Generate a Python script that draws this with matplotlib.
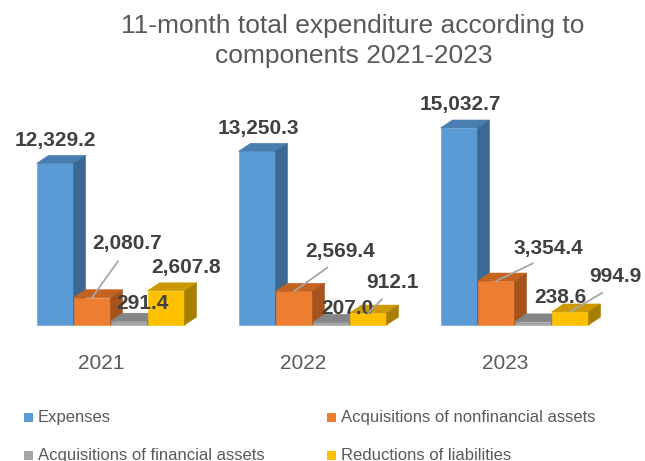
import matplotlib
matplotlib.use("Agg")
import matplotlib.pyplot as plt
from matplotlib.patches import Polygon, Rectangle
from matplotlib.transforms import blended_transform_factory

# ---------------- data ----------------
years = ["2021", "2022", "2023"]
series_names = ["Expenses", "Acquisitions of nonfinancial assets",
                "Acquisitions of financial assets", "Reductions of liabilities"]
expenses = [12329.2, 13250.3, 15032.7]
nonfinancial = [2080.7, 2569.4, 3354.4]
financial = [291.4, 207.0, 238.6]
reductions = [2607.8, 912.1, 994.9]
values = [expenses, nonfinancial, financial, reductions]

# ---------------- styles ----------------
front_col = ["#5B9BD5", "#ED7D31", "#A5A5A5", "#FFC000"]
top_col = ["#4A7DB0", "#C4631F", "#858585", "#CC9A00"]
side_col = ["#3C6894", "#A5541C", "#6E6E6E", "#A67E00"]

# label offsets (pixels, from bar's front-top centre to text baseline centre)
label_off = [
    [(0, 17), (1.5, 17.5), (1.5, 18)],
    [(35.5, 49), (46.5, 34.5), (52.5, 27.5)],
    [(13.5, 12.5), (16.5, 8.5), (27.5, 18.5)],
    [(20.5, 17.5), (24.5, 25.5), (45.5, 29.5)],
]
leader = [
    [False, False, False],
    [True, True, True],
    [False, False, False],
    [False, True, True],
]

W, H = 645, 461
fig = plt.figure(figsize=(W / 100, H / 100), dpi=100)
ax = fig.add_axes([0, 0, 1, 1])
ax.set_axis_off()

PX_CAT = 202.0      # pixels per category
CAT0 = 110.5        # pixel x of first category centre
BASE = 136.0        # pixel (from bottom) of baseline
UPP = 76.3          # value units per pixel
ax.set_xlim(-CAT0 / PX_CAT, (W - CAT0) / PX_CAT)
ax.set_ylim(-BASE * UPP, (H - BASE) * UPP)

bw = 37 / PX_CAT
dx = 12 / PX_CAT
dy = 8 * UPP

font = "Liberation Sans"
z = 2
for i in range(len(years)):
    for s in range(len(values)):
        h = values[s][i]
        x0 = i + (s - 2) * bw
        x1 = x0 + bw
        ax.bar(x0, h, width=bw, align="edge", color=front_col[s],
               linewidth=0.4, edgecolor=front_col[s], zorder=z)
        ax.add_patch(Polygon([(x0, h), (x1, h), (x1 + dx, h + dy), (x0 + dx, h + dy)],
                             closed=True, facecolor=top_col[s], edgecolor=top_col[s],
                             linewidth=0.4, zorder=z + 0.1))
        ax.add_patch(Polygon([(x1, 0), (x1 + dx, dy), (x1 + dx, h + dy), (x1, h)],
                             closed=True, facecolor=side_col[s], edgecolor=side_col[s],
                             linewidth=0.4, zorder=z + 0.2))
        z += 1

# value labels
for i in range(len(years)):
    for s in range(len(values)):
        h = values[s][i]
        xc = i + (s - 1.5) * bw
        ox, oy = label_off[s][i]
        kw = {}
        if leader[s][i]:
            kw["arrowprops"] = dict(arrowstyle="-", color="#A6A6A6", lw=1.3,
                                    shrinkA=5, shrinkB=0, relpos=(0.45, 0))
        ax.annotate(f"{h:,.1f}", xy=(xc, h), xytext=(ox, oy),
                    textcoords="offset pixels", ha="center", va="baseline",
                    fontsize=15, fontweight="bold", color="#404040",
                    family=font, zorder=100, **kw)

# category labels
trans = blended_transform_factory(ax.transData, fig.transFigure)
for i, y in enumerate(years):
    ax.text(i - 9 / PX_CAT, (H - 363) / H, y, transform=trans, ha="center",
            va="center", fontsize=15, color="#595959", family=font)

# title
fig.text(353 / W, (H - 33) / H, "11-month total expenditure according to",
         ha="center", va="baseline", fontsize=19, color="#595959", family=font)
fig.text(354 / W, (H - 63.5) / H, "components 2021-2023",
         ha="center", va="baseline", fontsize=19, color="#595959", family=font)

# legend
leg_x = [24, 327]
leg_y = [417.5, 455]
for s, name in enumerate(series_names):
    cx = leg_x[s % 2]
    cy = leg_y[s // 2]
    fig.patches.append(Rectangle(((cx) / W, (H - cy - 4.5) / H), 9 / W, 9 / H,
                                 transform=fig.transFigure, facecolor=front_col[s],
                                 edgecolor="none"))
    fig.text((cx + 14) / W, (H - cy) / H, name, ha="left", va="center",
             fontsize=12, color="#595959", family=font)

fig.savefig("out.png", dpi=100)
